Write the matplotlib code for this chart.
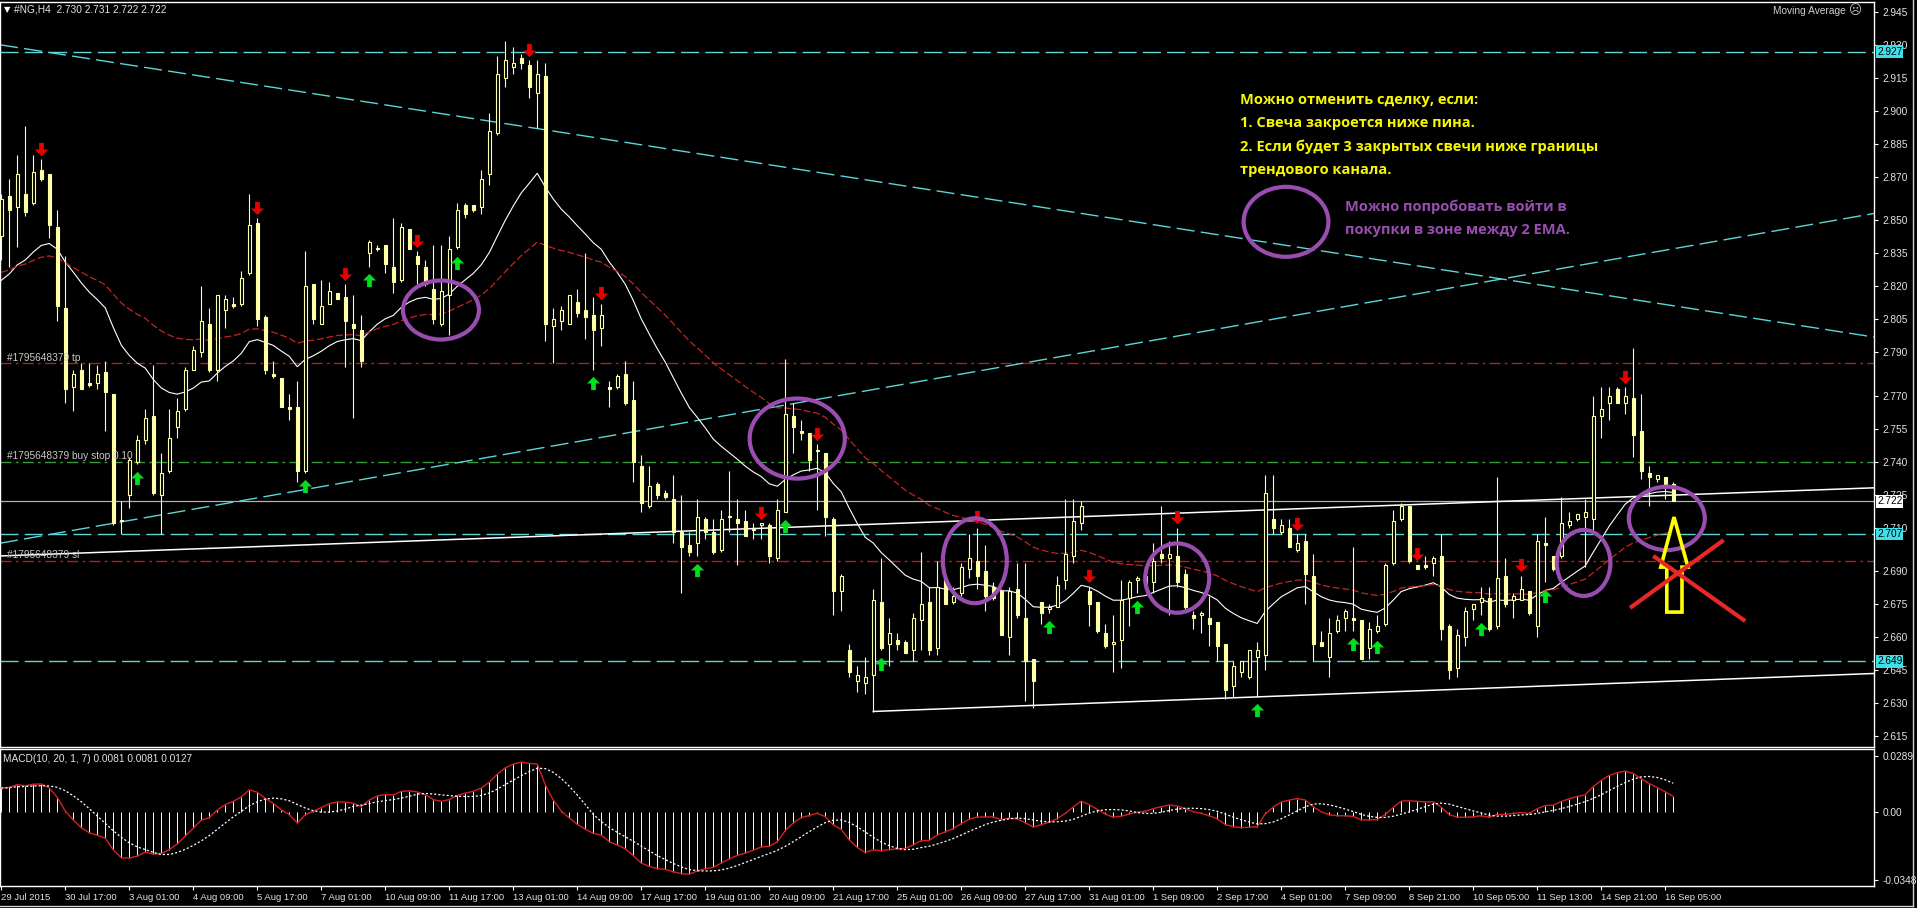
import matplotlib
matplotlib.use("Agg")
import matplotlib.pyplot as plt
from matplotlib.patches import Ellipse, Polygon
from matplotlib.path import Path
from matplotlib.lines import Line2D
import numpy as np
import pandas as pd

date_labels = [
    "29 Jul 2015", "30 Jul 17:00", "3 Aug 01:00", "4 Aug 09:00", "5 Aug 17:00",
    "7 Aug 01:00", "10 Aug 09:00", "11 Aug 17:00", "13 Aug 01:00", "14 Aug 09:00",
    "17 Aug 17:00", "19 Aug 01:00", "20 Aug 09:00", "21 Aug 17:00", "25 Aug 01:00",
    "26 Aug 09:00", "27 Aug 17:00", "31 Aug 01:00", "1 Sep 09:00", "2 Sep 17:00",
    "4 Sep 01:00", "7 Sep 09:00", "8 Sep 21:00", "10 Sep 05:00", "11 Sep 13:00",
    "14 Sep 21:00", "16 Sep 05:00",
]

open_ = [
    2.843, 2.861, 2.856, 2.862, 2.858, 2.873, 2.871, 2.847, 2.810, 2.774,
    2.782, 2.776, 2.776, 2.781, 2.771, 2.713, 2.725, 2.740, 2.750, 2.761,
    2.725, 2.736, 2.756, 2.764, 2.782, 2.790, 2.803, 2.782, 2.809, 2.812,
    2.812, 2.826, 2.849, 2.806, 2.780, 2.778, 2.765, 2.765, 2.736, 2.821,
    2.803, 2.812, 2.817, 2.815, 2.803, 2.800, 2.835, 2.837, 2.839, 2.829,
    2.823, 2.846, 2.834, 2.829, 2.819, 2.803, 2.816, 2.838, 2.857, 2.857,
    2.856, 2.871, 2.890, 2.915, 2.920, 2.924, 2.921, 2.908, 2.916, 2.802,
    2.804, 2.803, 2.813, 2.809, 2.807, 2.801, 2.774, 2.774, 2.780, 2.768,
    2.738, 2.720, 2.730, 2.726, 2.723, 2.708, 2.702, 2.703, 2.714, 2.708,
    2.700, 2.715, 2.714, 2.713, 2.709, 2.711, 2.711, 2.696, 2.717, 2.761,
    2.754, 2.753, 2.745, 2.744, 2.714, 2.681, 2.654, 2.640, 2.639, 2.643,
    2.676, 2.657, 2.659, 2.658, 2.654, 2.668, 2.676, 2.655, 2.687, 2.676,
    2.680, 2.691, 2.695, 2.690, 2.683, 2.681, 2.660, 2.682, 2.669, 2.650,
    2.676, 2.673, 2.674, 2.686, 2.697, 2.712, 2.681, 2.676, 2.662, 2.657,
    2.659, 2.678, 2.686, 2.688, 2.685, 2.698, 2.696, 2.697, 2.689, 2.670,
    2.670, 2.669, 2.667, 2.657, 2.638, 2.644, 2.642, 2.651, 2.652, 2.714,
    2.708, 2.710, 2.700, 2.704, 2.688, 2.658, 2.651, 2.663, 2.669, 2.669,
    2.668, 2.655, 2.663, 2.666, 2.694, 2.714, 2.720, 2.693, 2.693, 2.694,
    2.697, 2.665, 2.646, 2.660, 2.673, 2.676, 2.678, 2.665, 2.688, 2.677,
    2.677, 2.681, 2.665, 2.703, 2.697, 2.697, 2.711, 2.714, 2.715, 2.714,
    2.761, 2.767, 2.773, 2.767, 2.769, 2.754, 2.735, 2.732, 2.733, 2.730,
]
high = [
    2.862, 2.869, 2.880, 2.893, 2.880, 2.878, 2.871, 2.855, 2.834, 2.782,
    2.785, 2.785, 2.784, 2.786, 2.771, 2.722, 2.742, 2.752, 2.764, 2.784,
    2.744, 2.764, 2.769, 2.783, 2.793, 2.820, 2.810, 2.816, 2.816, 2.815,
    2.827, 2.862, 2.851, 2.807, 2.786, 2.778, 2.771, 2.777, 2.836, 2.821,
    2.823, 2.822, 2.817, 2.821, 2.816, 2.807, 2.841, 2.839, 2.839, 2.851,
    2.849, 2.846, 2.836, 2.832, 2.839, 2.839, 2.843, 2.858, 2.858, 2.857,
    2.873, 2.899, 2.925, 2.932, 2.929, 2.926, 2.923, 2.923, 2.922, 2.810,
    2.811, 2.816, 2.819, 2.835, 2.815, 2.812, 2.777, 2.780, 2.786, 2.777,
    2.743, 2.738, 2.731, 2.727, 2.734, 2.725, 2.708, 2.723, 2.715, 2.714,
    2.718, 2.736, 2.723, 2.718, 2.712, 2.712, 2.712, 2.723, 2.787, 2.767,
    2.759, 2.753, 2.748, 2.744, 2.715, 2.689, 2.657, 2.647, 2.651, 2.682,
    2.696, 2.669, 2.662, 2.659, 2.671, 2.699, 2.683, 2.695, 2.687, 2.683,
    2.694, 2.707, 2.710, 2.702, 2.685, 2.682, 2.683, 2.694, 2.694, 2.650,
    2.676, 2.675, 2.688, 2.723, 2.723, 2.722, 2.683, 2.676, 2.666, 2.670,
    2.686, 2.686, 2.688, 2.689, 2.703, 2.720, 2.704, 2.710, 2.691, 2.672,
    2.672, 2.679, 2.667, 2.657, 2.649, 2.649, 2.654, 2.658, 2.734, 2.734,
    2.714, 2.714, 2.707, 2.707, 2.698, 2.663, 2.669, 2.670, 2.673, 2.701,
    2.668, 2.667, 2.670, 2.694, 2.718, 2.721, 2.720, 2.693, 2.697, 2.697,
    2.707, 2.666, 2.664, 2.674, 2.675, 2.683, 2.683, 2.733, 2.696, 2.680,
    2.688, 2.681, 2.707, 2.715, 2.697, 2.724, 2.717, 2.716, 2.723, 2.770,
    2.774, 2.774, 2.774, 2.774, 2.792, 2.771, 2.738, 2.734, 2.733, 2.731,
]
low = [
    2.832, 2.829, 2.838, 2.852, 2.857, 2.868, 2.842, 2.804, 2.767, 2.763,
    2.773, 2.774, 2.773, 2.754, 2.711, 2.707, 2.719, 2.739, 2.748, 2.725,
    2.707, 2.735, 2.751, 2.763, 2.782, 2.788, 2.781, 2.777, 2.801, 2.810,
    2.811, 2.825, 2.802, 2.780, 2.778, 2.765, 2.759, 2.731, 2.735, 2.803,
    2.803, 2.812, 2.814, 2.783, 2.760, 2.783, 2.829, 2.836, 2.826, 2.817,
    2.822, 2.837, 2.821, 2.820, 2.803, 2.802, 2.798, 2.837, 2.851, 2.854,
    2.853, 2.866, 2.889, 2.911, 2.917, 2.919, 2.906, 2.892, 2.795, 2.785,
    2.800, 2.803, 2.806, 2.796, 2.782, 2.793, 2.765, 2.773, 2.766, 2.731,
    2.717, 2.719, 2.723, 2.723, 2.703, 2.680, 2.697, 2.697, 2.705, 2.698,
    2.699, 2.708, 2.693, 2.706, 2.705, 2.705, 2.694, 2.695, 2.717, 2.744,
    2.750, 2.736, 2.718, 2.706, 2.670, 2.672, 2.642, 2.635, 2.634, 2.626,
    2.654, 2.647, 2.654, 2.653, 2.649, 2.654, 2.652, 2.652, 2.675, 2.675,
    2.679, 2.687, 2.682, 2.672, 2.677, 2.661, 2.652, 2.669, 2.631, 2.628,
    2.666, 2.671, 2.674, 2.682, 2.694, 2.709, 2.665, 2.662, 2.655, 2.644,
    2.646, 2.665, 2.680, 2.683, 2.680, 2.694, 2.670, 2.683, 2.673, 2.664,
    2.662, 2.656, 2.649, 2.632, 2.633, 2.642, 2.641, 2.633, 2.645, 2.707,
    2.707, 2.701, 2.699, 2.675, 2.649, 2.656, 2.642, 2.662, 2.663, 2.663,
    2.650, 2.650, 2.662, 2.665, 2.693, 2.713, 2.694, 2.691, 2.691, 2.688,
    2.659, 2.641, 2.642, 2.656, 2.668, 2.670, 2.663, 2.664, 2.674, 2.669,
    2.677, 2.670, 2.660, 2.685, 2.690, 2.696, 2.710, 2.713, 2.692, 2.708,
    2.751, 2.759, 2.767, 2.762, 2.742, 2.732, 2.720, 2.731, 2.723, 2.722,
]
close = [
    2.860, 2.855, 2.871, 2.854, 2.872, 2.869, 2.848, 2.811, 2.773, 2.780,
    2.773, 2.775, 2.780, 2.772, 2.712, 2.713, 2.741, 2.750, 2.760, 2.726,
    2.735, 2.751, 2.763, 2.782, 2.791, 2.804, 2.782, 2.816, 2.814, 2.811,
    2.824, 2.848, 2.805, 2.782, 2.779, 2.765, 2.764, 2.736, 2.820, 2.805,
    2.811, 2.818, 2.814, 2.804, 2.801, 2.786, 2.840, 2.837, 2.830, 2.822,
    2.847, 2.837, 2.830, 2.821, 2.805, 2.818, 2.837, 2.855, 2.853, 2.855,
    2.869, 2.891, 2.917, 2.923, 2.922, 2.922, 2.911, 2.917, 2.803, 2.805,
    2.809, 2.816, 2.808, 2.806, 2.800, 2.807, 2.773, 2.779, 2.767, 2.740,
    2.721, 2.729, 2.725, 2.724, 2.708, 2.701, 2.699, 2.715, 2.708, 2.699,
    2.714, 2.715, 2.712, 2.706, 2.709, 2.712, 2.697, 2.718, 2.762, 2.756,
    2.753, 2.741, 2.745, 2.715, 2.681, 2.688, 2.644, 2.643, 2.642, 2.677,
    2.655, 2.662, 2.657, 2.653, 2.669, 2.675, 2.654, 2.683, 2.675, 2.679,
    2.692, 2.696, 2.688, 2.679, 2.678, 2.661, 2.681, 2.670, 2.649, 2.640,
    2.671, 2.674, 2.684, 2.698, 2.713, 2.720, 2.675, 2.663, 2.656, 2.658,
    2.677, 2.685, 2.687, 2.684, 2.695, 2.696, 2.698, 2.685, 2.674, 2.669,
    2.671, 2.666, 2.656, 2.636, 2.647, 2.649, 2.654, 2.654, 2.726, 2.710,
    2.711, 2.701, 2.703, 2.689, 2.657, 2.656, 2.662, 2.668, 2.672, 2.668,
    2.650, 2.664, 2.665, 2.693, 2.713, 2.720, 2.695, 2.691, 2.692, 2.696,
    2.664, 2.645, 2.661, 2.672, 2.675, 2.678, 2.664, 2.687, 2.675, 2.679,
    2.682, 2.671, 2.704, 2.702, 2.691, 2.712, 2.713, 2.716, 2.717, 2.761,
    2.764, 2.770, 2.767, 2.770, 2.752, 2.736, 2.733, 2.734, 2.729, 2.722,
]

# signal arrows (bar numbers)
buy_arrows = [17, 38, 46, 57, 74, 87, 98, 110, 131, 142, 157, 169, 172, 185, 193]
sell_arrows = [5, 32, 43, 52, 66, 75, 95, 102, 122, 136, 147, 162, 177, 190, 203]

# horizontal objects
hlines_cyan = [2.927, 2.707, 2.649]
bid_price = 2.722
order_tp, order_buy_stop, order_sl = 2.785, 2.740, 2.695
order_id = "#1795648379"

# trend lines, two anchor points (bar, price)
trend_down = [(0, 2.9300), (233, 2.7975)]
trend_up = [(0, 2.7030), (233, 2.8525)]
channel_top = [(0, 2.6971), (233, 2.7280)]
channel_bottom = [(109, 2.6262), (234, 2.6435)]

price_ticks = [2.945, 2.930, 2.915, 2.900, 2.885, 2.870, 2.850, 2.835, 2.820,
               2.805, 2.790, 2.770, 2.755, 2.740, 2.725, 2.710, 2.690, 2.675,
               2.660, 2.645, 2.630, 2.615]
macd_ticks = [0.0289, 0.0, -0.0348]
macd_tick_labels = ["0.0289", "0.00", "-0.0348"]

# indicator settings
ema_fast_period, ema_slow_period = 21, 50
ema_fast_start, ema_slow_start = 2.819, 2.825
macd_fast, macd_slow, macd_signal = 10, 20, 7
macd_fast_start, macd_slow_start = 2.832, 2.821

# ---------------- styling ----------------
W, H = 1917, 908
CANDLE = "#ffffa6"
CYAN = "#5cd6d6"
CYAN_BOX = "#3ee0e8"
ORDER_RED = "#b81c1c"
ORDER_GREEN = "#3a9a3a"
EMA_RED = "#c42424"
PURPLE = "#9a4db0"
TXT = "#e4e4e4"
FONT = "Liberation Sans"
plt.rcParams["lines.scale_dashes"] = False


def ema(values, period, start):
    a = 2.0 / (period + 1)
    out, e = [], start
    for v in values:
        e += a * (v - e)
        out.append(e)
    return np.array(out)


def fbox(x0, y0, x1, y1):
    return [x0 / W, 1 - y1 / H, (x1 - x0) / W, (y1 - y0) / H]


o = np.array(open_); h = np.array(high); l = np.array(low); c = np.array(close)
n = len(c)
x = np.arange(n)

fig = plt.figure(figsize=(W / 100, H / 100), dpi=100, facecolor="black")
ax = fig.add_axes(fbox(0, 2, 1874, 747), facecolor="black")
axm = fig.add_axes(fbox(0, 749, 1874, 886), facecolor="black", sharex=ax)

for a_ in (ax, axm):
    for s in a_.spines.values():
        s.set_color("white")
        s.set_linewidth(1.0)

ax.set_xlim(-0.16, 234.1)
ax.set_ylim(2.6100, 2.9496)

# ---- horizontal levels / trend lines ----
for lv in hlines_cyan:
    ax.axhline(lv, color=CYAN, lw=1.0, ls=(0, (13, 4.5)), zorder=1)
ax.axhline(bid_price, color="#b0b0b0", lw=0.9, zorder=1)
for lv, col in [(order_tp, ORDER_RED), (order_buy_stop, ORDER_GREEN), (order_sl, ORDER_RED)]:
    ax.axhline(lv, color=col, lw=1.0, ls=(0, (8, 3, 2, 3)), zorder=1)

ax.axline(trend_down[0], trend_down[1], color=CYAN, lw=1.0, ls=(0, (13, 4.5)), zorder=1)
ax.axline(trend_up[0], trend_up[1], color=CYAN, lw=1.0, ls=(0, (13, 4.5)), zorder=1)
ax.axline(channel_top[0], channel_top[1], color="white", lw=1.1, zorder=1)
ax.plot([channel_bottom[0][0], channel_bottom[1][0]],
        [channel_bottom[0][1], channel_bottom[1][1]], color="white", lw=1.1, zorder=1)

# ---- moving averages ----
ax.plot(x, ema(c, ema_fast_period, ema_fast_start), color="white", lw=0.8, zorder=2)
ax.plot(x, ema(c, ema_slow_period, ema_slow_start), color=EMA_RED, lw=0.9,
        ls=(0, (5, 2)), zorder=2)

# ---- candles ----
ax.vlines(x, l, h, color=CANDLE, lw=0.8, zorder=3)
bull = c >= o
body_lo = np.minimum(o, c)
body_h = np.maximum(np.abs(c - o), 0.0003)
ax.bar(x[bull], body_h[bull], bottom=body_lo[bull], width=0.42,
       facecolor="black", edgecolor=CANDLE, lw=0.8, zorder=4)
ax.bar(x[~bull], body_h[~bull], bottom=body_lo[~bull], width=0.42,
       facecolor=CANDLE, edgecolor=CANDLE, lw=0.8, zorder=4)

# ---- signal arrows ----
up_path = Path([(0, 0.5), (0.5, 0.0), (0.18, 0.0), (0.18, -0.5), (-0.18, -0.5),
                (-0.18, 0.0), (-0.5, 0.0), (0, 0.5)], closed=True)
down_path = Path(up_path.vertices * [1, -1], closed=True)
ba = np.array(buy_arrows); sa = np.array(sell_arrows)
ax.plot(ba, l[ba] - 0.0062, ls="none", marker=up_path, ms=9.5, color="#00e01a", mew=0, zorder=5)
ax.plot(sa, h[sa] + 0.0048, ls="none", marker=down_path, ms=9.5, color="#e80000", mew=0, zorder=5)

# ---- hand-drawn annotations ----
ellipses = [((54.96, 2.8092), 9.5, 0.0269), ((99.5, 2.7506), 11.9, 0.0365),
            ((121.7, 2.6949), 8.0, 0.0387), ((147.0, 2.6870), 8.0, 0.0316),
            ((197.8, 2.6939), 6.7, 0.0301), ((208.2, 2.7142), 9.5, 0.0289),
            ((160.6, 2.8494), 10.6, 0.0319)]
for cen, ew, eh in ellipses:
    ax.add_patch(Ellipse(cen, ew, eh, fill=False, ec=PURPLE, lw=3.0, zorder=6))

ax.add_patch(Polygon([(209.1, 2.7148), (210.85, 2.6920), (210.1, 2.6920), (210.1, 2.6715),
                      (208.2, 2.6715), (208.2, 2.6920), (207.45, 2.6920)],
                     closed=True, fill=False, ec="#ffff00", lw=2.6, joinstyle="miter", zorder=7))
ax.plot([203.6, 215.3], [2.6734, 2.7043], color="#e82828", lw=3.0, solid_capstyle="butt", zorder=8)
ax.plot([206.5, 218.0], [2.6971, 2.6674], color="#e82828", lw=3.0, solid_capstyle="butt", zorder=8)

# ---- axes ticks ----
ax.yaxis.tick_right()
ax.set_yticks(price_ticks)
ax.set_yticklabels([f"{v:.3f}" for v in price_ticks])
ax.tick_params(axis="y", colors="white", labelcolor=TXT, length=3, width=0.8,
               direction="out", pad=3, labelsize=7.3)
for t in ax.get_yticklabels():
    t.set_family(FONT)
ax.tick_params(axis="x", bottom=False, labelbottom=False)

axm.set_ylim(-0.0380, 0.0325)
axm.yaxis.tick_right()
axm.set_yticks(macd_ticks)
axm.set_yticklabels(macd_tick_labels)
axm.tick_params(axis="y", colors="white", labelcolor=TXT, length=3, width=0.8,
                direction="out", pad=3, labelsize=7.3)
axm.set_xticks(np.arange(0, n, 8))
axm.set_xticklabels(date_labels, ha="left")
axm.tick_params(axis="x", colors="white", labelcolor=TXT, length=3, width=0.8,
                direction="out", pad=2, labelsize=6.8)
for t in axm.get_yticklabels() + axm.get_xticklabels():
    t.set_family(FONT)

# level boxes on the price scale
for lv, fc in [(2.927, CYAN_BOX), (2.707, CYAN_BOX), (2.649, CYAN_BOX), (bid_price, "white")]:
    ax.text(1.0016, lv, f"{lv:.3f}", transform=ax.get_yaxis_transform(), ha="left",
            va="center", fontsize=7.3, family=FONT, color="black", clip_on=False, zorder=20,
            bbox=dict(boxstyle="square,pad=0.12", fc=fc, ec="none"))

# ---- MACD ----
fast = ema(c, macd_fast, macd_fast_start)
slow = ema(c, macd_slow, macd_slow_start)
macd = fast - slow
signal = pd.Series(macd).rolling(macd_signal, min_periods=1).mean().to_numpy()
axm.vlines(x, 0, macd, color="white", lw=0.7, zorder=2)
axm.plot(x, macd, color="#d42020", lw=1.0, zorder=3)
axm.plot(x, signal, color="white", lw=0.9, ls=(0, (1.5, 1.5)), zorder=4)

# ---- texts ----
def ftxt(px, py, s, **kw):
    fig.text(px / W, 1 - py / H, s, **kw)

ftxt(4, 10, "\u25bc", color="white", fontsize=6, va="center", family="DejaVu Sans")
ftxt(14, 10, "#NG,H4  2.730 2.731 2.722 2.722", color=TXT, fontsize=7.3, va="center", family=FONT)
ftxt(1846, 11, "Moving Average", color="#cfcfcf", fontsize=7.3, va="center", ha="right", family=FONT)
ftxt(1855, 11, "\u2639", color="#cfcfcf", fontsize=9, va="center", ha="center", family="DejaVu Sans")
ftxt(3, 759, "MACD(10, 20, 1, 7) 0.0081 0.0081 0.0127", color=TXT, fontsize=7.3, va="center", family=FONT)

ftxt(7, 358, f"{order_id} tp", color="#c8c8c8", fontsize=7.3, va="center", family=FONT)
ftxt(7, 456, f"{order_id} buy stop 0.10", color="#c8c8c8", fontsize=7.3, va="center", family=FONT)
ftxt(7, 555, f"{order_id} sl", color="#c8c8c8", fontsize=7.3, va="center", family=FONT)

yellow_lines = ["Можно отменить сделку, если:", "1. Свеча закроется ниже пина.",
                "2. Если будет 3 закрытых свечи ниже границы", "трендового канала."]
for i, s in enumerate(yellow_lines):
    ftxt(1240, 100 + i * 23.3, s, color="#f7f700", fontsize=10.5, weight="bold",
         va="center", family="Open Sans")
purple_lines = ["Можно попробовать войти в", "покупки в зоне между 2 EMA."]
for i, s in enumerate(purple_lines):
    ftxt(1345, 207 + i * 23.3, s, color=PURPLE, fontsize=10.5, weight="bold",
         va="center", family="Open Sans")

# outer window frame
fig.add_artist(Line2D([1913 / W, 1913 / W], [1 - 906 / H, 1.0], color="#d0d0d0", lw=1.0))
fig.add_artist(Line2D([0, 1913 / W], [1 - 906 / H, 1 - 906 / H], color="#d0d0d0", lw=1.0))

fig.savefig("out.png", dpi=100, facecolor="black")
